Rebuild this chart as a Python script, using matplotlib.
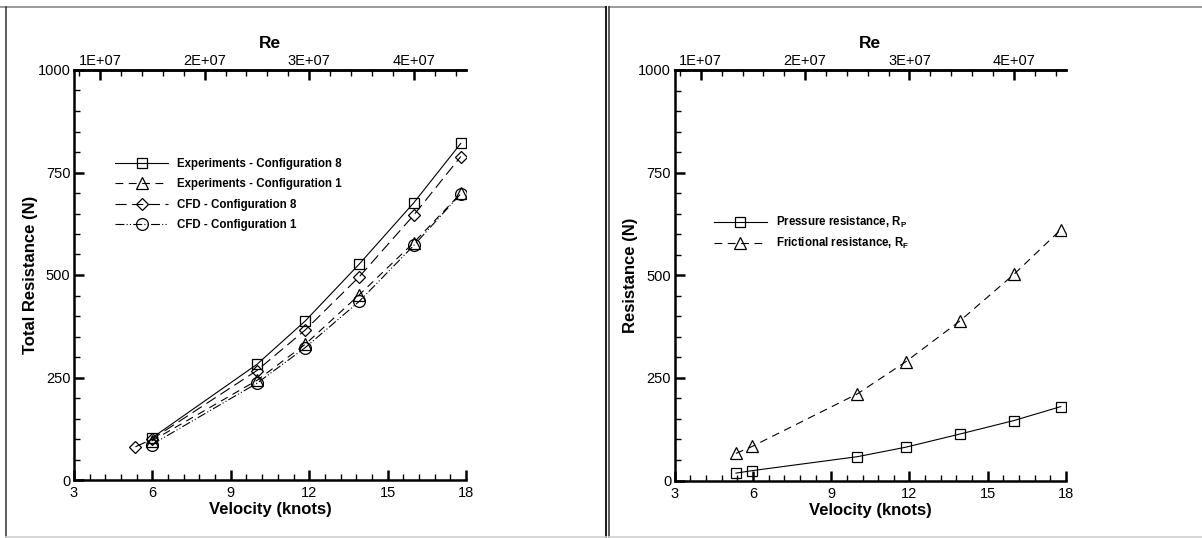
import numpy as np
import matplotlib
matplotlib.use("Agg")
import matplotlib.pyplot as plt
from matplotlib.lines import Line2D
from matplotlib.ticker import MultipleLocator, FuncFormatter

plt.rcParams['font.family'] = ['Liberation Sans', 'DejaVu Sans']
plt.rcParams['mathtext.fontset'] = 'custom'
plt.rcParams['mathtext.rm'] = 'Liberation Sans'
plt.rcParams['mathtext.bf'] = 'Liberation Sans:bold'

# left panel: total resistance
v_exp8 = [5.97, 10.0, 11.85, 13.92, 16.0, 17.8]
r_exp8 = [102, 282, 388, 527, 676, 821]
v_exp1 = [5.97, 10.0, 11.85, 13.92, 16.0, 17.8]
r_exp1 = [95, 243, 331, 452, 579, 699]
v_cfd8 = [5.35, 5.97, 10.0, 11.85, 13.92, 16.0, 17.8]
r_cfd8 = [81, 99, 267, 366, 496, 646, 789]
v_cfd1 = [5.97, 10.0, 11.85, 13.92, 16.0, 17.8]
r_cfd1 = [86, 236, 323, 436, 572, 698]

# right panel: resistance components
v_comp = [5.35, 5.97, 10.0, 11.85, 13.92, 16.0, 17.8]
r_press = [18, 24, 58, 81, 113, 146, 180]
r_fric = [66, 83, 211, 289, 388, 502, 611]

re_per_knot = 2.5e6

fig = plt.figure(figsize=(12.02, 5.38), dpi=100)
W, H = 1202.0, 538.0

# panel frames
def fline(x0, y0, x1, y1, color, lw=1.2):
    fig.add_artist(Line2D([x0 / W, x1 / W], [1 - y0 / H, 1 - y1 / H],
                          color=color, lw=lw, transform=fig.transFigure))

fline(0, 7, 606, 7, '#8a8a8a')
fline(6, 7, 6, 537, '#404040')
fline(606, 7, 606, 537, '#202020', lw=1.5)
fline(6, 536.5, 606, 536.5, '#d0d0d0')
fline(609, 7, 1202, 7, '#8a8a8a')
fline(609, 7, 609, 537, '#404040')
fline(609, 536.5, 1202, 536.5, '#d0d0d0')

tick_fs = 10.5
lab_fs = 12

def style_axes(ax, ylabel):
    ax.set_xlim(3, 18)
    ax.set_ylim(0, 1000)
    for s in ['left', 'bottom', 'top']:
        ax.spines[s].set_linewidth(1.8)
    ax.spines['right'].set_visible(False)
    ax.xaxis.set_major_locator(MultipleLocator(3))
    ax.xaxis.set_minor_locator(MultipleLocator(0.6))
    ax.yaxis.set_major_locator(MultipleLocator(250))
    ax.yaxis.set_minor_locator(MultipleLocator(50))
    ax.tick_params(which='both', direction='in', top=False, right=False,
                   labelsize=tick_fs)
    ax.tick_params(which='major', length=7, width=1.8, pad=2.5)
    ax.tick_params(axis='x', which='major', pad=4.5)
    ax.tick_params(which='minor', length=4.5, width=1.0)
    ax.set_xlabel('Velocity (knots)', fontsize=lab_fs, fontweight='bold', labelpad=1.5)
    ax.set_ylabel(ylabel, fontsize=lab_fs, fontweight='bold', labelpad=0)

    sec = ax.secondary_xaxis('top', functions=(lambda v: v * re_per_knot,
                                               lambda r: r / re_per_knot))
    sec.set_xticks([1e7, 2e7, 3e7, 4e7])
    sec.xaxis.set_minor_locator(MultipleLocator(2e6))
    sec.xaxis.set_major_formatter(FuncFormatter(lambda r, p: '%dE+07' % round(r / 1e7)))
    sec.tick_params(which='both', direction='in', labelsize=tick_fs)
    sec.tick_params(which='major', length=7, width=1.8, pad=1.5)
    sec.tick_params(which='minor', length=4.5, width=1.0)
    sec.spines['top'].set_linewidth(1.8)
    sec.set_xlabel('Re', fontsize=lab_fs + 0.5, fontweight='bold', labelpad=4)

mk = dict(color='black', mfc='none', mec='black', mew=0.9, lw=0.8)
leg_kw = dict(loc='upper left', frameon=False, prop={'weight': 'bold', 'size': 8.3},
              handlelength=4.6, handletextpad=0.75, borderpad=0, borderaxespad=0)

ax1 = fig.add_axes([74 / W, 1 - 480 / H, 392 / W, 410 / H])
style_axes(ax1, 'Total Resistance (N)')
ax1.plot(v_exp8, r_exp8, marker='s', ms=7.5, ls='-',
         label='Experiments - Configuration 8', **mk)
ax1.plot(v_exp1, r_exp1, marker='^', ms=8.5, ls=(0, (7, 5)),
         label='Experiments - Configuration 1', **mk)
ax1.plot(v_cfd8, r_cfd8, marker='D', ms=6.5, ls=(0, (10, 5)),
         label='CFD - Configuration 8', **mk)
ax1.plot(v_cfd1, r_cfd1, marker='o', ms=8.5, ls=(0, (8, 2, 1, 2, 1, 2)),
         label='CFD - Configuration 1', **mk)
ax1.legend(bbox_to_anchor=(0.105, 0.785), labelspacing=0.72, **leg_kw)

ax2 = fig.add_axes([674.7 / W, 1 - 480.5 / H, 391.3 / W, 410.5 / H])
style_axes(ax2, 'Resistance (N)')
ax2.plot(v_comp, r_press, marker='s', ms=7.5, ls='-',
         label=r'Pressure resistance, R$_\mathbf{P}$', **mk)
ax2.plot(v_comp, r_fric, marker='^', ms=8.5, ls=(0, (7, 5)),
         label=r'Frictional resistance, R$_\mathbf{F}$', **mk)
ax2.legend(bbox_to_anchor=(0.10, 0.646), labelspacing=0.45, **leg_kw)

fig.savefig('out.png', dpi=100)
